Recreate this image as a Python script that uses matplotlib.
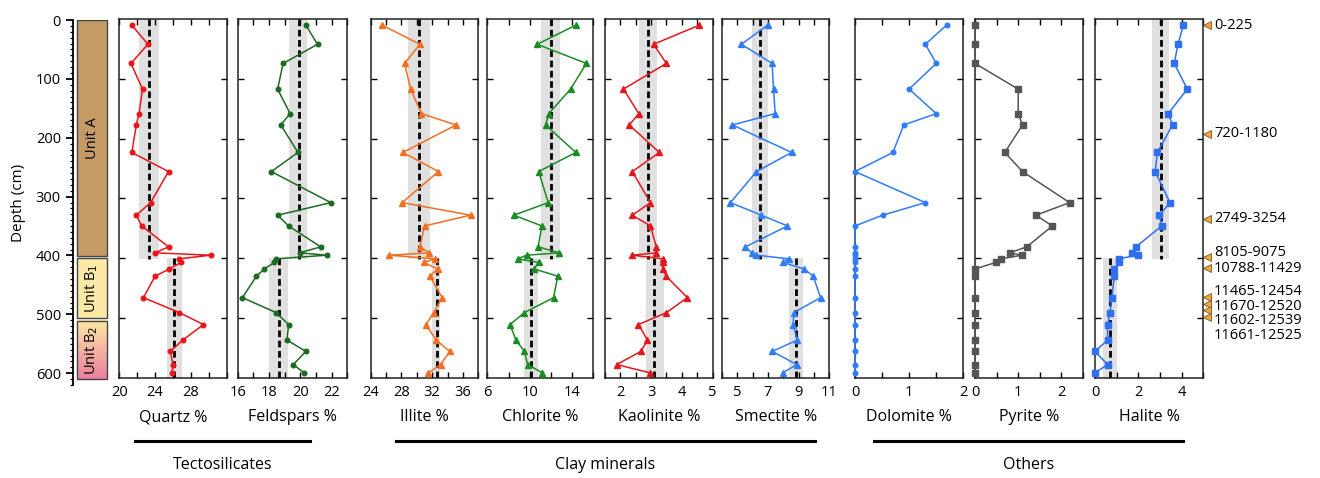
import numpy as np
import matplotlib.pyplot as plt
from matplotlib.patches import Rectangle
from matplotlib.lines import Line2D
import matplotlib.transforms as mtransforms

plt.rcParams['font.family'] = ['Open Sans', 'DejaVu Sans']

# sample depths (cm), shared by all panels
depth = [10, 42, 74, 117, 158, 177, 223, 255, 307, 328, 346, 381, 391, 395,
         401, 407, 418, 430, 466, 491, 511, 537, 556, 578, 592]

quartz = [21.4, 23.2, 21.3, 22.6, 22.2, 21.9, 21.4, 25.5, 23.5, 21.9, 22.5, 25.5, 24.0,
          30.2, 26.7, 26.9, 25.6, 24.0, 22.7, 26.7, 29.4, 27.1, 25.7, 26.0, 25.9]
feldspars = [20.35, 21.1, 18.9, 18.55, 19.35, 18.75, 19.85, 18.15, 21.95, 18.55, 19.25, 21.3, 19.95,
             21.7, 18.45, 18.35, 17.7, 17.2, 16.3, 18.45, 19.25, 19.15, 20.35, 19.55, 20.25]
illite = [25.5, 30.4, 28.4, 29.2, 30.6, 35.1, 28.2, 32.8, 28.1, 37.0, 31.0, 30.4, 31.6,
          26.4, 32.4, 30.9, 32.7, 31.7, 33.3, 32.2, 31.2, 32.5, 34.3, 33.1, 31.5]
chlorite = [14.35, 10.7, 15.35, 13.85, 11.8, 11.5, 14.35, 10.85, 11.75, 8.5, 11.15, 10.8, 12.8,
            9.7, 8.85, 10.85, 10.4, 12.65, 12.25, 9.5, 8.15, 8.7, 9.5, 9.8, 11.2]
kaolinite = [4.57, 3.08, 3.5, 2.1, 2.6, 2.29, 3.27, 2.39, 2.98, 2.39, 2.98, 3.17, 3.17,
             2.39, 3.38, 3.38, 3.38, 3.49, 4.18, 3.5, 2.59, 2.88, 2.67, 1.88, 2.98]
smectite = [6.97, 5.26, 7.27, 7.36, 7.47, 4.68, 8.54, 6.25, 4.55, 6.57, 8.27, 5.53, 5.94,
            6.25, 8.36, 7.95, 9.36, 9.95, 10.43, 8.69, 8.64, 8.91, 7.27, 8.88, 7.95]
dolomite = [1.69, 1.3, 1.5, 1.0, 1.5, 0.9, 0.7, 0.0, 1.3, 0.51, 0.0, 0.0, 0.0,
            0.0, 0.0, 0.0, 0.0, 0.0, 0.0, 0.0, 0.0, 0.0, 0.0, 0.0, 0.0]
pyrite = [0.0, 0.0, 0.0, 1.0, 1.0, 1.1, 0.69, 1.1, 2.19, 1.41, 1.79, 1.2, 0.8,
          1.09, 0.6, 0.49, 0.0, 0.0, 0.0, 0.0, 0.0, 0.0, 0.0, 0.0, 0.0]
halite = [4.08, 3.83, 3.66, 4.26, 3.38, 3.58, 2.88, 2.78, 3.46, 2.97, 3.08, 1.89, 1.69,
          1.98, 1.09, 1.09, 0.89, 0.89, 0.78, 0.69, 0.58, 0.58, 0.0, 0.58, 0.0]

# unit means and shaded range: (mean, low, high) for unit A and unit B
means_A = {'Quartz': (23.3, 22.2, 24.4), 'Feldspars': (19.9, 19.25, 20.45),
           'Illite': (30.3, 28.8, 31.7), 'Chlorite': (12.0, 11.05, 12.9),
           'Kaolinite': (2.89, 2.61, 3.18), 'Smectite': (6.5, 5.96, 7.0),
           'Halite': (3.03, 2.65, 3.43)}
means_B = {'Quartz': (26.1, 25.3, 27.0), 'Feldspars': (18.65, 18.0, 19.2),
           'Illite': (32.6, 32.0, 33.0), 'Chlorite': (10.15, 9.45, 10.75),
           'Kaolinite': (3.11, 2.84, 3.41), 'Smectite': (8.82, 8.38, 9.26),
           'Halite': (0.69, 0.38, 1.0)}

units = ['Unit A', 'Unit B$_1$', 'Unit B$_2$']
unit_tops = [0, 405, 511]
unit_bots = [401, 507, 610]

date_labels = ['0-225', '720-1180', '2749-3254', '8105-9075', '10788-11429',
               '11465-12454', '11670-12520', '11602-12539', '11661-12525']
date_depths = [10, 192, 334, 398, 416, 465, 477, 487, 498]

W, H = 1320, 478
fig = plt.figure(figsize=(W / 100, H / 100), dpi=100)


def add_ax(x0, x1, y0, y1):
    return fig.add_axes([x0 / W, 1 - y1 / H, (x1 - x0) / W, (y1 - y0) / H])


def ftext(x, y, s, **kw):
    fig.text(x / W, 1 - y / H, s, **kw)


# depth axis + unit column
axd = add_ax(72.7, 110, 20, 385)
axd.set_ylim(620, 0)
axd.set_xlim(0, 1)
for s in ['top', 'right', 'bottom']:
    axd.spines[s].set_visible(False)
axd.spines['left'].set_linewidth(1.3)
axd.set_xticks([])
axd.set_yticks(np.arange(0, 601, 100))
axd.set_yticks(np.arange(0, 621, 10), minor=True)
axd.tick_params(axis='y', which='major', direction='out', length=5, width=1.3, labelsize=10.5, pad=3.5)
axd.tick_params(axis='y', which='minor', direction='out', length=2.5, width=0.9)
axd.set_ylabel('Depth (cm)', fontsize=11, labelpad=7)

unit_cols = ['#c49a65', '#fde9a6', None]
for name, t, b, c in zip(units, unit_tops, unit_bots, unit_cols):
    if c is None:
        grad = np.linspace(0, 1, 100)[:, None, None]
        top = np.array([253, 233, 165]) / 255
        bot = np.array([234, 128, 158]) / 255
        img = top * (1 - grad) + bot * grad
        axd.imshow(img, extent=(0.115, 0.92, b, t), aspect='auto', zorder=1)
        axd.add_patch(Rectangle((0.115, t), 0.805, b - t, fill=False, ec='#444444', lw=1, zorder=2))
    else:
        axd.add_patch(Rectangle((0.115, t), 0.805, b - t, fc=c, ec='#444444', lw=1, zorder=2))
    axd.text(0.52, (t + b) / 2, name, rotation=90, ha='center', va='center', fontsize=10.5, zorder=3)
axd.set_xlim(0, 1)
axd.set_ylim(620, 0)

# mineral panels
panels = [
    ('Quartz', quartz, '#e8151b', 'o', 3.3, (20, 32), 2, [20, 24, 28], (119.3, 226.7)),
    ('Feldspars', feldspars, '#1c6b22', 'o', 3.3, (16, 23), 1, [16, 18, 20, 22], (237.7, 347.3)),
    ('Illite', illite, '#f26f22', '^', 4.3, (24, 38), 2, [24, 28, 32, 36], (370.7, 478.3)),
    ('Chlorite', chlorite, '#1a8c24', '^', 4.3, (6, 16), 2, [6, 10, 14], (487.3, 593.3)),
    ('Kaolinite', kaolinite, '#e3171c', '^', 4.3, (1.5, 5), 0.5, [2, 3, 4, 5], (605, 712.5)),
    ('Smectite', smectite, '#2f7cf6', '^', 4.3, (4, 11), 1, [5, 7, 9, 11], (722, 829.3)),
    ('Dolomite', dolomite, '#2f7cf6', 'o', 3.3, (0, 2), 0.5, [0, 1, 2], (855, 963.3)),
    ('Pyrite', pyrite, '#555555', 's', 4.3, (0, 2.5), 0.5, [0, 1, 2], (975, 1083)),
    ('Halite', halite, '#2f6ff2', 's', 4.3, (0, 5), 1, [0, 2, 4], (1095, 1203.3)),
]

ax_h = None
for name, vals, col, mk, ms, xl, step, labs, (x0, x1) in panels:
    ax = add_ax(x0, x1, 19.2, 377.7)
    if name in means_A:
        for (m, lo, hi), (t, b) in [(means_A[name], (0, 402)), (means_B[name], (400, 600))]:
            ax.fill_betweenx([t, b], lo, hi, color='#e0e0e0', lw=0, zorder=1)
            ax.plot([m, m], [t, b], color='black', lw=2, ls=(0, (2.4, 1.3)), zorder=2)
    ax.plot(vals, depth, color=col, marker=mk, ms=ms, lw=1.1, zorder=3, clip_on=False)
    ax.set_xlim(*xl)
    ax.set_ylim(600, 0)
    ticks = np.arange(xl[0], xl[1] + step / 2, step)
    ax.set_xticks(ticks)
    ax.set_xticklabels([f'{t:g}' if any(abs(t - l) < 1e-9 for l in labs) else '' for t in ticks])
    ax.set_yticks(np.arange(100, 501, 100))
    ax.set_yticklabels([])
    ax.tick_params(direction='in', length=4, width=1, top=True, right=True, labelsize=10.5, pad=5)
    for s in ax.spines.values():
        s.set_linewidth(1.1)
        s.set_color('#222222')
    ftext((x0 + x1) / 2, 417, f'{name} %', ha='center', va='center', fontsize=11.5)
    ax_h = ax

# radiocarbon dates beside halite panel
trans = mtransforms.blended_transform_factory(ax_h.transAxes, ax_h.transData)
ax_h.plot([1.035] * len(date_depths), date_depths, ls='none', marker='<', ms=6,
          mfc='#f5a53a', mec='#7a5a20', mew=0.6, transform=trans, clip_on=False)
label_depths = [10, 192, 333, 391, 418, 455, 480, 505, 530]
for lab, d in zip(date_labels, label_depths):
    ax_h.text(1.1, d, lab, transform=trans, ha='left', va='center', fontsize=10.5)

# group brackets
for (xa, xb, lab) in [(135, 310, 'Tectosilicates'), (396, 815, 'Clay minerals'),
                      (874, 1183, 'Others')]:
    fig.add_artist(Line2D([xa / W, xb / W], [1 - 441 / H] * 2, color='black', lw=2.2))
    ftext((xa + xb) / 2, 465, lab, ha='center', va='center', fontsize=11.5)

fig.savefig('out.png', dpi=100)
